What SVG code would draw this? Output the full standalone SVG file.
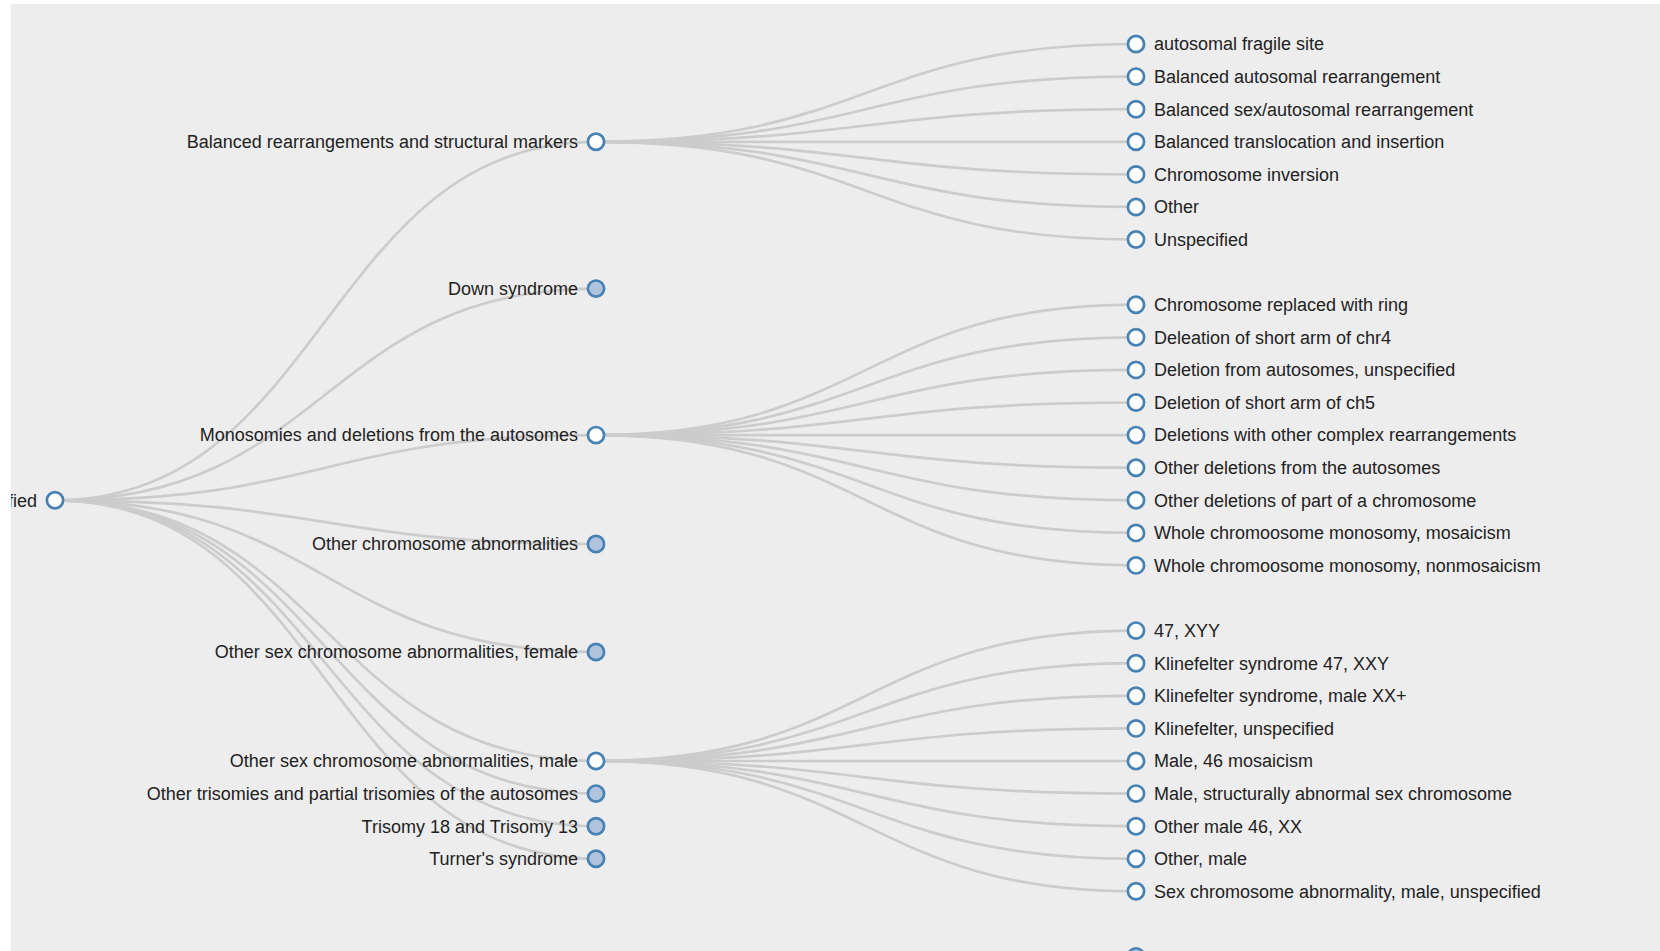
<svg xmlns="http://www.w3.org/2000/svg" width="1660" height="951" viewBox="0 0 1660 951">
<style>
.bg{fill:#ededed}
.link{fill:none;stroke:#cccccc;stroke-width:2.7}
.node circle{fill:#ffffff;stroke:#4682b4;stroke-width:2.7}
.node.collapsed circle{fill:#b0c4de}
.node text{font-family:"Liberation Sans",Arial,sans-serif;font-size:18px;fill:#222222}
.mid text{text-anchor:end}
</style>
<defs>
<clipPath id="clip"><rect x="11" y="4" width="1649" height="947"/></clipPath>
</defs>
<rect width="1660" height="951" fill="#ffffff"/>
<rect class="bg" x="11" y="4" width="1649" height="947"/>
<g clip-path="url(#clip)">
<g id="links">
<path class="link" d="M55,500.3C325.5,500.3 325.5,141.8 596,141.8"/>
<path class="link" d="M55,500.3C325.5,500.3 325.5,288.6 596,288.6"/>
<path class="link" d="M55,500.3C325.5,500.3 325.5,435.1 596,435.1"/>
<path class="link" d="M55,500.3C325.5,500.3 325.5,544 596,544"/>
<path class="link" d="M55,500.3C325.5,500.3 325.5,652 596,652"/>
<path class="link" d="M55,500.3C325.5,500.3 325.5,761 596,761"/>
<path class="link" d="M55,500.3C325.5,500.3 325.5,793.6 596,793.6"/>
<path class="link" d="M55,500.3C325.5,500.3 325.5,826.2 596,826.2"/>
<path class="link" d="M55,500.3C325.5,500.3 325.5,858.8 596,858.8"/>
<path class="link" d="M596,141.8C866,141.8 866,44 1136,44"/>
<path class="link" d="M596,141.8C866,141.8 866,76.6 1136,76.6"/>
<path class="link" d="M596,141.8C866,141.8 866,109.2 1136,109.2"/>
<path class="link" d="M596,141.8C866,141.8 866,141.8 1136,141.8"/>
<path class="link" d="M596,141.8C866,141.8 866,174.4 1136,174.4"/>
<path class="link" d="M596,141.8C866,141.8 866,207 1136,207"/>
<path class="link" d="M596,141.8C866,141.8 866,239.5 1136,239.5"/>
<path class="link" d="M596,435.1C866,435.1 866,304.7 1136,304.7"/>
<path class="link" d="M596,435.1C866,435.1 866,337.3 1136,337.3"/>
<path class="link" d="M596,435.1C866,435.1 866,369.9 1136,369.9"/>
<path class="link" d="M596,435.1C866,435.1 866,402.5 1136,402.5"/>
<path class="link" d="M596,435.1C866,435.1 866,435.1 1136,435.1"/>
<path class="link" d="M596,435.1C866,435.1 866,467.7 1136,467.7"/>
<path class="link" d="M596,435.1C866,435.1 866,500.3 1136,500.3"/>
<path class="link" d="M596,435.1C866,435.1 866,532.9 1136,532.9"/>
<path class="link" d="M596,435.1C866,435.1 866,565.4 1136,565.4"/>
<path class="link" d="M596,761C866,761 866,630.6 1136,630.6"/>
<path class="link" d="M596,761C866,761 866,663.2 1136,663.2"/>
<path class="link" d="M596,761C866,761 866,695.8 1136,695.8"/>
<path class="link" d="M596,761C866,761 866,728.4 1136,728.4"/>
<path class="link" d="M596,761C866,761 866,761 1136,761"/>
<path class="link" d="M596,761C866,761 866,793.6 1136,793.6"/>
<path class="link" d="M596,761C866,761 866,826.2 1136,826.2"/>
<path class="link" d="M596,761C866,761 866,858.8 1136,858.8"/>
<path class="link" d="M596,761C866,761 866,891.3 1136,891.3"/>
</g>
<g id="root" class="node"><circle cx="55" cy="500.3" r="8.1"/><text x="37" y="506.6" text-anchor="end">fied</text></g>
<g id="m1" class="node mid"><circle cx="596" cy="141.8" r="8.1"/><text x="578" y="148.1">Balanced rearrangements and structural markers</text></g>
<g id="m2" class="node mid collapsed"><circle cx="596" cy="288.6" r="8.1"/><text x="578" y="294.9">Down syndrome</text></g>
<g id="m3" class="node mid"><circle cx="596" cy="435.1" r="8.1"/><text x="578" y="441.4">Monosomies and deletions from the autosomes</text></g>
<g id="m4" class="node mid collapsed"><circle cx="596" cy="544" r="8.1"/><text x="578" y="550.3">Other chromosome abnormalities</text></g>
<g id="m5" class="node mid collapsed"><circle cx="596" cy="652" r="8.1"/><text x="578" y="658.3">Other sex chromosome abnormalities, female</text></g>
<g id="m6" class="node mid"><circle cx="596" cy="761" r="8.1"/><text x="578" y="767.3">Other sex chromosome abnormalities, male</text></g>
<g id="m7" class="node mid collapsed"><circle cx="596" cy="793.6" r="8.1"/><text x="578" y="799.9">Other trisomies and partial trisomies of the autosomes</text></g>
<g id="m8" class="node mid collapsed"><circle cx="596" cy="826.2" r="8.1"/><text x="578" y="832.5">Trisomy 18 and Trisomy 13</text></g>
<g id="m9" class="node mid collapsed"><circle cx="596" cy="858.8" r="8.1"/><text x="578" y="865.1">Turner's syndrome</text></g>
<g id="a0" class="node"><circle cx="1136" cy="44" r="8.1"/><text x="1154" y="50.3">autosomal fragile site</text></g>
<g id="a1" class="node"><circle cx="1136" cy="76.6" r="8.1"/><text x="1154" y="82.9">Balanced autosomal rearrangement</text></g>
<g id="a2" class="node"><circle cx="1136" cy="109.2" r="8.1"/><text x="1154" y="115.5">Balanced sex/autosomal rearrangement</text></g>
<g id="a3" class="node"><circle cx="1136" cy="141.8" r="8.1"/><text x="1154" y="148.1">Balanced translocation and insertion</text></g>
<g id="a4" class="node"><circle cx="1136" cy="174.4" r="8.1"/><text x="1154" y="180.7">Chromosome inversion</text></g>
<g id="a5" class="node"><circle cx="1136" cy="207" r="8.1"/><text x="1154" y="213.3">Other</text></g>
<g id="a6" class="node"><circle cx="1136" cy="239.5" r="8.1"/><text x="1154" y="245.8">Unspecified</text></g>
<g id="b0" class="node"><circle cx="1136" cy="304.7" r="8.1"/><text x="1154" y="311">Chromosome replaced with ring</text></g>
<g id="b1" class="node"><circle cx="1136" cy="337.3" r="8.1"/><text x="1154" y="343.6">Deleation of short arm of chr4</text></g>
<g id="b2" class="node"><circle cx="1136" cy="369.9" r="8.1"/><text x="1154" y="376.2">Deletion from autosomes, unspecified</text></g>
<g id="b3" class="node"><circle cx="1136" cy="402.5" r="8.1"/><text x="1154" y="408.8">Deletion of short arm of ch5</text></g>
<g id="b4" class="node"><circle cx="1136" cy="435.1" r="8.1"/><text x="1154" y="441.4">Deletions with other complex rearrangements</text></g>
<g id="b5" class="node"><circle cx="1136" cy="467.7" r="8.1"/><text x="1154" y="474">Other deletions from the autosomes</text></g>
<g id="b6" class="node"><circle cx="1136" cy="500.3" r="8.1"/><text x="1154" y="506.6">Other deletions of part of a chromosome</text></g>
<g id="b7" class="node"><circle cx="1136" cy="532.9" r="8.1"/><text x="1154" y="539.2">Whole chromoosome monosomy, mosaicism</text></g>
<g id="b8" class="node"><circle cx="1136" cy="565.4" r="8.1"/><text x="1154" y="571.7">Whole chromoosome monosomy, nonmosaicism</text></g>
<g id="c0" class="node"><circle cx="1136" cy="630.6" r="8.1"/><text x="1154" y="636.9">47, XYY</text></g>
<g id="c1" class="node"><circle cx="1136" cy="663.2" r="8.1"/><text x="1154" y="669.5">Klinefelter syndrome 47, XXY</text></g>
<g id="c2" class="node"><circle cx="1136" cy="695.8" r="8.1"/><text x="1154" y="702.1">Klinefelter syndrome, male XX+</text></g>
<g id="c3" class="node"><circle cx="1136" cy="728.4" r="8.1"/><text x="1154" y="734.7">Klinefelter, unspecified</text></g>
<g id="c4" class="node"><circle cx="1136" cy="761" r="8.1"/><text x="1154" y="767.3">Male, 46 mosaicism</text></g>
<g id="c5" class="node"><circle cx="1136" cy="793.6" r="8.1"/><text x="1154" y="799.9">Male, structurally abnormal sex chromosome</text></g>
<g id="c6" class="node"><circle cx="1136" cy="826.2" r="8.1"/><text x="1154" y="832.5">Other male 46, XX</text></g>
<g id="c7" class="node"><circle cx="1136" cy="858.8" r="8.1"/><text x="1154" y="865.1">Other, male</text></g>
<g id="c8" class="node"><circle cx="1136" cy="891.3" r="8.1"/><text x="1154" y="897.6">Sex chromosome abnormality, male, unspecified</text></g>
<g id="d0" class="node collapsed"><circle cx="1136" cy="956.5" r="8.1"/></g>
</g>
</svg>
